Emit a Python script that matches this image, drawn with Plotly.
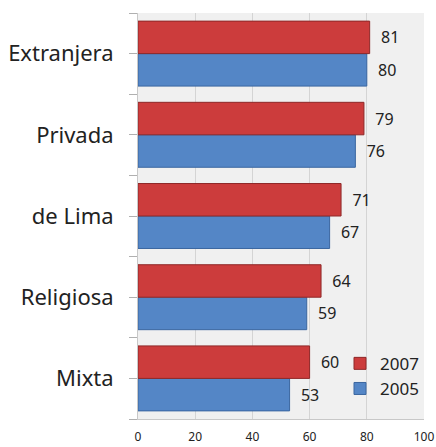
import plotly.graph_objects as go

categories = ["Extranjera", "Privada", "de Lima", "Religiosa", "Mixta"]
values_2007 = [81, 79, 71, 64, 60]
values_2005 = [80, 76, 67, 59, 53]
x_ticks = [0, 20, 40, 60, 80, 100]

# plotly draws horizontal categories bottom-up, so reverse for top-down order
cats = categories[::-1]
v07 = values_2007[::-1]
v05 = values_2005[::-1]

label_font = dict(family="Noto Sans", size=16, color="#222222")

fig = go.Figure()
fig.add_trace(go.Bar(
    y=cats, x=v05, orientation="h", name="2005",
    marker=dict(color="#5486c6", line=dict(color="#3a66a0", width=1)),
    text=[f"  {v}" for v in v05], textposition="outside",
    textfont=label_font, cliponaxis=False,
))
fig.add_trace(go.Bar(
    y=cats, x=v07, orientation="h", name="2007",
    marker=dict(color="#cc3c3c", line=dict(color="#8f2828", width=1)),
    text=[f"  {v}" for v in v07], textposition="outside",
    textfont=label_font, cliponaxis=False,
))
# invisible trace to carry boundary ticks
fig.add_trace(go.Scatter(y=cats, x=[0] * len(cats), yaxis="y2", mode="markers",
                         marker=dict(opacity=0), showlegend=False, hoverinfo="skip"))

fig.update_layout(
    width=436, height=447,
    margin=dict(l=138, r=12, t=13, b=28, autoexpand=False),
    paper_bgcolor="white",
    plot_bgcolor="#f0f0f0",
    barmode="group",
    bargap=0.2,
    bargroupgap=0,
    font=dict(family="Noto Sans", color="#222222"),
    showlegend=True,
    legend=dict(x=1, y=0.03, xanchor="right", yanchor="bottom",
                traceorder="reversed", bgcolor="rgba(0,0,0,0)",
                font=dict(size=17), itemwidth=30),
    xaxis=dict(range=[0, 100], autorange=False, tickvals=x_ticks,
               showgrid=True, gridcolor="#d4d4d4", zeroline=False, ticks="",
               tickfont=dict(size=12), showline=True, linecolor="#c8c8c8",
               automargin=False, ticklabelstandoff=7,
               ticklabeloverflow="allow"),
    yaxis=dict(tickfont=dict(size=22), ticks="outside", ticklen=8,
               tickcolor="#b0b0b0", showline=True, linecolor="#c8c8c8",
               ticklabelstandoff=11, automargin=False),
    yaxis2=dict(overlaying="y", side="left", tickson="boundaries",
                ticks="outside", ticklen=8, tickcolor="#b0b0b0",
                showticklabels=False, showgrid=False, matches="y",
                automargin=False),
)

# drop the default page margin and scrollbars so the figure fills the window
page_js = ("document.body.style.margin='0';"
           "document.body.style.overflow='hidden';"
           "document.documentElement.style.overflow='hidden';")
fig.write_html("out.html", config={"displayModeBar": False}, post_script=page_js)
